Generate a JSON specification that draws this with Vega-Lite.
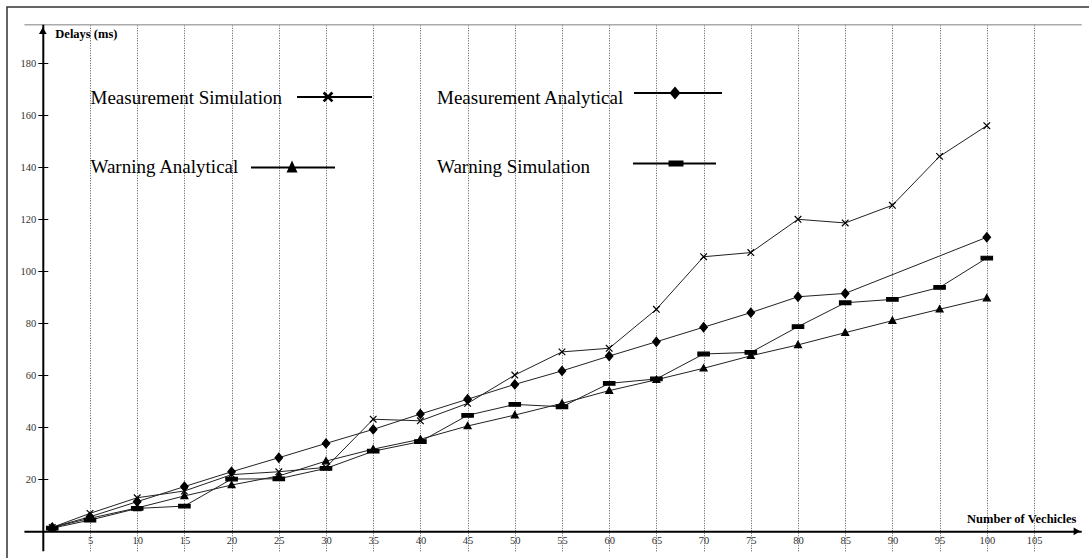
{
  "$schema": "https://vega.github.io/schema/vega-lite/v6.json",
  "width": 1083,
  "height": 552,
  "autosize": {"type": "none"},
  "padding": {"left": 7, "top": 7, "right": 0, "bottom": 0},
  "config": {
    "view": {"stroke": "#333", "strokeWidth": 1.5},
    "font": "Liberation Serif"
  },
  "datasets": {
    "delays": [
      {"vehicles": 1, "series": "Measurement Simulation", "delay": 1.5},
      {"vehicles": 5, "series": "Measurement Simulation", "delay": 6.9},
      {"vehicles": 10, "series": "Measurement Simulation", "delay": 12.9},
      {"vehicles": 15, "series": "Measurement Simulation", "delay": 15.5},
      {"vehicles": 20, "series": "Measurement Simulation", "delay": 21.8},
      {"vehicles": 25, "series": "Measurement Simulation", "delay": 22.9},
      {"vehicles": 30, "series": "Measurement Simulation", "delay": 24.6},
      {"vehicles": 35, "series": "Measurement Simulation", "delay": 43.1},
      {"vehicles": 40, "series": "Measurement Simulation", "delay": 42.5},
      {"vehicles": 45, "series": "Measurement Simulation", "delay": 49.2},
      {"vehicles": 50, "series": "Measurement Simulation", "delay": 60.1},
      {"vehicles": 55, "series": "Measurement Simulation", "delay": 69.0},
      {"vehicles": 60, "series": "Measurement Simulation", "delay": 70.4},
      {"vehicles": 65, "series": "Measurement Simulation", "delay": 85.4},
      {"vehicles": 70, "series": "Measurement Simulation", "delay": 105.6},
      {"vehicles": 75, "series": "Measurement Simulation", "delay": 107.2},
      {"vehicles": 80, "series": "Measurement Simulation", "delay": 120.0},
      {"vehicles": 85, "series": "Measurement Simulation", "delay": 118.6},
      {"vehicles": 90, "series": "Measurement Simulation", "delay": 125.4},
      {"vehicles": 95, "series": "Measurement Simulation", "delay": 144.2},
      {"vehicles": 100, "series": "Measurement Simulation", "delay": 156.0},
      {"vehicles": 1, "series": "Measurement Analytical", "delay": 1.5},
      {"vehicles": 5, "series": "Measurement Analytical", "delay": 5.6},
      {"vehicles": 10, "series": "Measurement Analytical", "delay": 11.4},
      {"vehicles": 15, "series": "Measurement Analytical", "delay": 17.2},
      {"vehicles": 20, "series": "Measurement Analytical", "delay": 22.9},
      {"vehicles": 25, "series": "Measurement Analytical", "delay": 28.3},
      {"vehicles": 30, "series": "Measurement Analytical", "delay": 33.8},
      {"vehicles": 35, "series": "Measurement Analytical", "delay": 39.2},
      {"vehicles": 40, "series": "Measurement Analytical", "delay": 45.1},
      {"vehicles": 45, "series": "Measurement Analytical", "delay": 50.8},
      {"vehicles": 50, "series": "Measurement Analytical", "delay": 56.5},
      {"vehicles": 55, "series": "Measurement Analytical", "delay": 61.7},
      {"vehicles": 60, "series": "Measurement Analytical", "delay": 67.4},
      {"vehicles": 65, "series": "Measurement Analytical", "delay": 72.9},
      {"vehicles": 70, "series": "Measurement Analytical", "delay": 78.5},
      {"vehicles": 75, "series": "Measurement Analytical", "delay": 84.1},
      {"vehicles": 80, "series": "Measurement Analytical", "delay": 90.2},
      {"vehicles": 85, "series": "Measurement Analytical", "delay": 91.5},
      {"vehicles": 100, "series": "Measurement Analytical", "delay": 113.1},
      {"vehicles": 1, "series": "Warning Analytical", "delay": 1.5},
      {"vehicles": 5, "series": "Warning Analytical", "delay": 5.0},
      {"vehicles": 10, "series": "Warning Analytical", "delay": 9.0},
      {"vehicles": 15, "series": "Warning Analytical", "delay": 13.6},
      {"vehicles": 20, "series": "Warning Analytical", "delay": 17.8},
      {"vehicles": 25, "series": "Warning Analytical", "delay": 21.3},
      {"vehicles": 30, "series": "Warning Analytical", "delay": 27.0},
      {"vehicles": 35, "series": "Warning Analytical", "delay": 31.6},
      {"vehicles": 40, "series": "Warning Analytical", "delay": 35.4},
      {"vehicles": 45, "series": "Warning Analytical", "delay": 40.5},
      {"vehicles": 50, "series": "Warning Analytical", "delay": 44.7},
      {"vehicles": 55, "series": "Warning Analytical", "delay": 49.2},
      {"vehicles": 60, "series": "Warning Analytical", "delay": 54.1},
      {"vehicles": 65, "series": "Warning Analytical", "delay": 58.3},
      {"vehicles": 70, "series": "Warning Analytical", "delay": 62.7},
      {"vehicles": 75, "series": "Warning Analytical", "delay": 67.5},
      {"vehicles": 80, "series": "Warning Analytical", "delay": 71.7},
      {"vehicles": 85, "series": "Warning Analytical", "delay": 76.4},
      {"vehicles": 90, "series": "Warning Analytical", "delay": 81.0},
      {"vehicles": 95, "series": "Warning Analytical", "delay": 85.4},
      {"vehicles": 100, "series": "Warning Analytical", "delay": 89.7},
      {"vehicles": 1, "series": "Warning Simulation", "delay": 1.2},
      {"vehicles": 5, "series": "Warning Simulation", "delay": 4.3},
      {"vehicles": 10, "series": "Warning Simulation", "delay": 8.8},
      {"vehicles": 15, "series": "Warning Simulation", "delay": 9.7},
      {"vehicles": 20, "series": "Warning Simulation", "delay": 20.1},
      {"vehicles": 25, "series": "Warning Simulation", "delay": 20.2},
      {"vehicles": 30, "series": "Warning Simulation", "delay": 24.2},
      {"vehicles": 35, "series": "Warning Simulation", "delay": 30.8},
      {"vehicles": 40, "series": "Warning Simulation", "delay": 34.5},
      {"vehicles": 45, "series": "Warning Simulation", "delay": 44.6},
      {"vehicles": 50, "series": "Warning Simulation", "delay": 48.8},
      {"vehicles": 55, "series": "Warning Simulation", "delay": 47.9},
      {"vehicles": 60, "series": "Warning Simulation", "delay": 56.9},
      {"vehicles": 65, "series": "Warning Simulation", "delay": 58.6},
      {"vehicles": 70, "series": "Warning Simulation", "delay": 68.2},
      {"vehicles": 75, "series": "Warning Simulation", "delay": 68.8},
      {"vehicles": 80, "series": "Warning Simulation", "delay": 78.7},
      {"vehicles": 85, "series": "Warning Simulation", "delay": 87.9},
      {"vehicles": 90, "series": "Warning Simulation", "delay": 89.2},
      {"vehicles": 95, "series": "Warning Simulation", "delay": 93.8},
      {"vehicles": 100, "series": "Warning Simulation", "delay": 105.1}
    ]
  },
  "resolve": {"axis": {"x": "independent", "y": "independent"}, "scale": {"shape": "independent"}},
  "layer": [
    {
      "data": {"name": "delays"},
      "mark": {"type": "line", "color": "#222", "strokeWidth": 1},
      "encoding": {
        "x": {
          "field": "vehicles", "type": "quantitative",
          "scale": {"domain": [-2, 110], "range": [16.92, 1074.2], "nice": false, "zero": false},
          "axis": {
            "orient": "bottom", "offset": -27.7,
            "values": [5, 10, 15, 20, 25, 30, 35, 40, 45, 50, 55, 60, 65, 70, 75, 80, 85, 90, 95, 100, 105],
            "domain": true, "domainColor": "black", "domainWidth": 2,
            "ticks": false, "grid": false,
            "labels": true, "labelFont": "Liberation Serif", "labelFontSize": 10.5, "labelColor": "#333", "labelPadding": 4, "labelFlush": false, "labelOverlap": false,
            "title": "Number of Vechicles", "titleFont": "Liberation Serif", "titleFontSize": 12.5, "titleFontWeight": "bold", "titleColor": "black",
            "titleAlign": "right", "titleBaseline": "middle", "titleX": 1069, "titleY": -13.3
          }
        },
        "y": {
          "field": "delay", "type": "quantitative",
          "scale": {"domain": [-7.5, 195], "range": [543.8, 17.3], "nice": false, "zero": false},
          "axis": {
            "orient": "left", "offset": -35.8,
            "values": [20, 40, 60, 80, 100, 120, 140, 160, 180],
            "domain": true, "domainColor": "black", "domainWidth": 2,
            "ticks": true, "tickSize": 5, "tickColor": "black", "tickWidth": 1,
            "grid": false,
            "labels": true, "labelFont": "Liberation Serif", "labelFontSize": 10.5, "labelColor": "#333", "labelPadding": 2, "labelFlush": false, "labelOverlap": false,
            "title": "Delays (ms)", "titleFont": "Liberation Serif", "titleFontSize": 12.5, "titleFontWeight": "bold", "titleColor": "black",
            "titleAngle": 0, "titleAlign": "left", "titleBaseline": "middle", "titleX": 12, "titleY": 26
          }
        },
        "detail": {"field": "series"}
      }
    },
    {
      "data": {"name": "delays"},
      "mark": {"type": "point", "filled": true, "fill": "black", "stroke": "black", "strokeWidth": 1.2, "opacity": 1, "size": 144},
      "encoding": {
        "x": {
          "field": "vehicles", "type": "quantitative",
          "scale": {"domain": [-2, 110], "range": [16.92, 1074.2], "nice": false, "zero": false},
          "axis": {
            "orient": "top", "offset": -17.3,
            "values": [5, 10, 15, 20, 25, 30, 35, 40, 45, 50, 55, 60, 65, 70, 75, 80, 85, 90, 95, 100, 105],
            "domain": true, "domainColor": "#aaa", "domainWidth": 1.5,
            "ticks": false, "labels": false, "title": null,
            "grid": true, "gridColor": "#555", "gridDash": [1, 1.5], "gridWidth": 1
          }
        },
        "y": {
          "field": "delay", "type": "quantitative",
          "scale": {"domain": [-7.5, 195], "range": [543.8, 17.3], "nice": false, "zero": false},
          "axis": {
            "orient": "left", "offset": -40.8,
            "values": [20, 40, 60, 80, 100, 120, 140, 160, 180],
            "domain": false, "ticks": true, "tickSize": 5, "tickColor": "black", "tickWidth": 1,
            "labels": false, "grid": false, "title": null
          }
        },
        "shape": {
          "field": "series", "type": "nominal",
          "scale": {
            "domain": ["Measurement Simulation", "Measurement Analytical", "Warning Analytical", "Warning Simulation"],
            "range": [
              "M-0.55,-0.55L0.55,0.55M-0.55,0.55L0.55,-0.55",
              "M0,-0.75L0.62,0L0,0.75L-0.62,0Z",
              "M0,-0.6L0.58,0.45L-0.58,0.45Z",
              "M-0.95,-0.3H0.95V0.3H-0.95Z"
            ]
          },
          "legend": null
        }
      }
    },
    {
      "data": {"name": "delays"},
      "transform": [{"filter": "false"}],
      "mark": {"type": "point", "filled": true, "fill": "black", "strokeWidth": 0, "opacity": 1, "size": 7744},
      "encoding": {
        "x": {"field": "vehicles", "type": "quantitative", "scale": {"domain": [-2, 110], "range": [16.92, 1074.2], "nice": false, "zero": false}, "axis": null},
        "y": {"field": "delay", "type": "quantitative", "scale": {"domain": [-7.5, 195], "range": [543.8, 17.3], "nice": false, "zero": false}, "axis": null},
        "shape": {
          "field": "series", "type": "nominal",
          "scale": {
            "domain": ["Measurement Simulation", "Measurement Analytical", "Warning Analytical", "Warning Simulation"],
            "range": [
              "M3.693,-0.046H5.398V0H3.693ZM4.32,-0.145L4.52,0.055L4.476,0.099L4.276,-0.101ZM4.276,0.055L4.476,-0.145L4.52,-0.101L4.32,0.099Z",
              "M3.478,-0.137H5.478V-0.091H3.478ZM4.409,-0.262L4.534,-0.114L4.409,0.034L4.284,-0.114Z",
              "M2.648,-0.012H4.557V0.034H2.648ZM3.58,-0.149L3.705,0.125L3.455,0.125Z",
              "M3.455,-0.103H5.341V-0.057H3.455ZM4.262,-0.148H4.602V-0.012H4.262Z"
            ]
          },
          "legend": {
            "orient": "none", "legendX": 83.5, "legendY": 47, "columns": 2, "direction": "horizontal", "title": null, "padding": 0,
            "symbolSize": 7744, "symbolStrokeWidth": 0, "symbolFillColor": "black", "symbolOpacity": 1,
            "labelFont": "Liberation Serif", "labelFontSize": 19, "labelColor": "black", "labelLimit": 400,
            "labelAlign": "left", "labelBaseline": "middle", "labelOffset": -88,
            "columnPadding": 64.5, "rowPadding": 15
          }
        }
      }
    },
    {
      "data": {"values": [{}]},
      "mark": {"type": "point", "shape": "triangle-up", "filled": true, "fill": "black", "opacity": 1, "size": 60},
      "encoding": {
        "x": {"datum": 0, "type": "quantitative", "scale": {"domain": [-2, 110], "range": [16.92, 1074.2], "nice": false, "zero": false}, "axis": null},
        "y": {"datum": 192.6, "type": "quantitative", "scale": {"domain": [-7.5, 195], "range": [543.8, 17.3], "nice": false, "zero": false}, "axis": null}
      }
    },
    {
      "data": {"values": [{}]},
      "mark": {"type": "point", "shape": "triangle-right", "filled": true, "fill": "black", "opacity": 1, "size": 60},
      "encoding": {
        "x": {"datum": 109.55, "type": "quantitative", "scale": {"domain": [-2, 110], "range": [16.92, 1074.2], "nice": false, "zero": false}, "axis": null},
        "y": {"datum": 0, "type": "quantitative", "scale": {"domain": [-7.5, 195], "range": [543.8, 17.3], "nice": false, "zero": false}, "axis": null}
      }
    }
  ]
}
